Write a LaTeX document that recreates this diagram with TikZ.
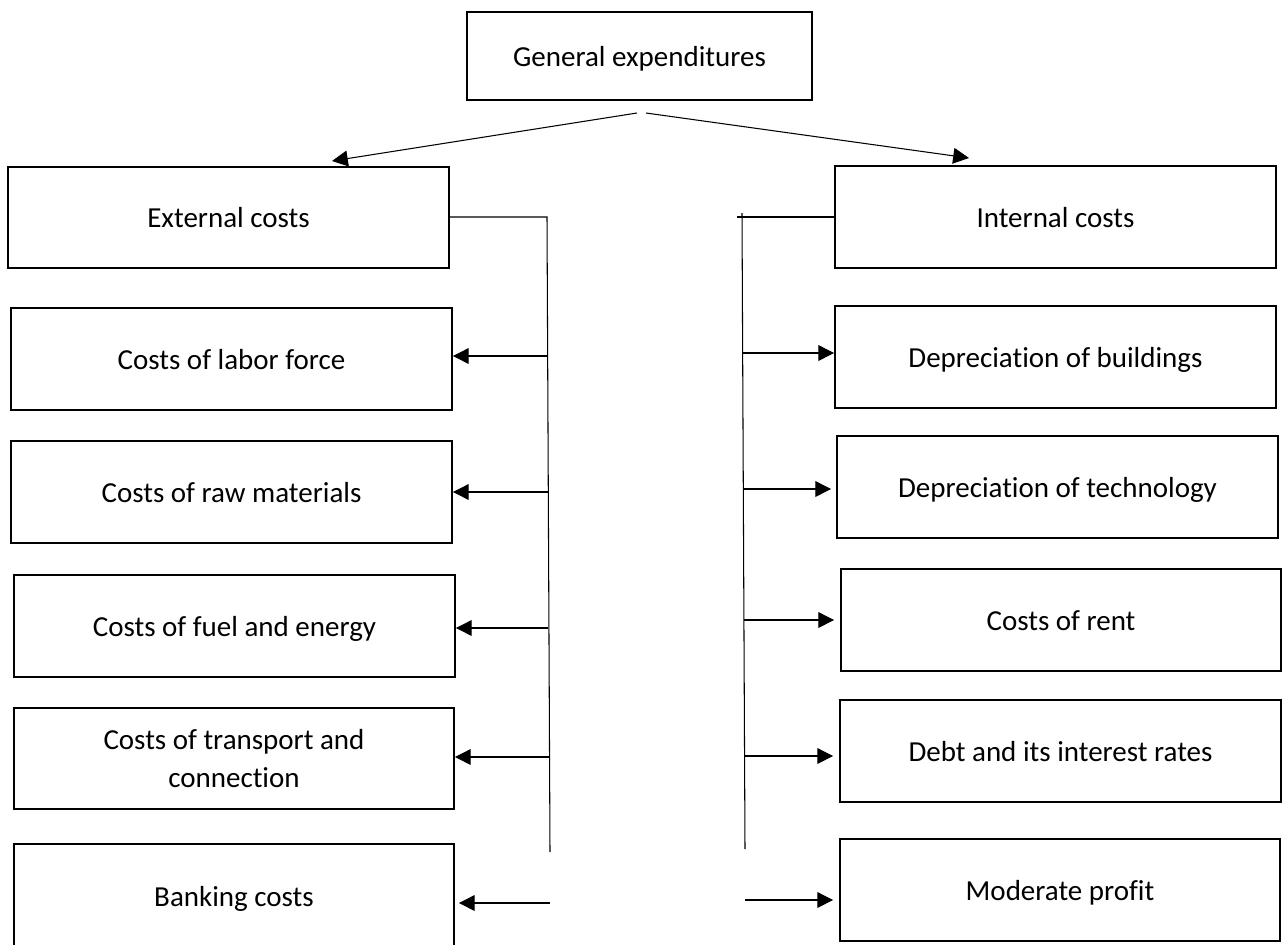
\documentclass[tikz,border=0pt]{standalone}
\usepackage{fontspec}
\setmainfont{Carlito}[Ligatures=NoCommon]
\usetikzlibrary{arrows.meta}
\begin{document}
\begin{tikzpicture}[x=0.02cm,y=-0.02cm,
  box/.style={draw, line width=1.1pt, inner sep=0pt, align=center,
    minimum width=8.82cm, minimum height=2.04cm,
    text height=12.4pt, text depth=0.9pt,
    font=\fontsize{16.5}{21.5}\selectfont},
  thin/.style={line width=0.6pt},
  arr/.style={thin, -{Triangle[length=9pt,width=9pt]}}]
\useasboundingbox (0,0) rectangle (1282,944);
\clip (0,0) rectangle (1282,944);

% top box
\node[box, minimum width=6.9cm, minimum height=1.76cm] (gen) at (639.5,56) {General expenditures};

% the two groups
\node[box, minimum height=2.02cm] (ext) at (228.5,217.5) {External costs};
\node[box] (int) at (1055.5,217) {Internal costs};

% external items
\node[box] (lab) at (231.5,359) {Costs of labor force};
\node[box] (raw) at (231.5,492) {Costs of raw materials};
\node[box] (fuel) at (234.5,626) {Costs of fuel and energy};
\node[box, minimum width=8.8cm, minimum height=2.02cm, text height=, text depth=] (trans) at (234,758.5) {Costs of transport and\\connection};
\node[box, minimum width=8.8cm, minimum height=2.08cm] (bank) at (234,896) {Banking costs};

% internal items
\node[box] (bld) at (1055.5,357) {Depreciation of buildings};
\node[box] (tech) at (1057.5,487) {Depreciation of technology};
\node[box, minimum width=8.8cm] (rent) at (1061,620) {Costs of rent};
\node[box] (debt) at (1060.5,751) {Debt and its interest rates};
\node[box, minimum width=8.8cm] (prof) at (1060,890) {Moderate profit};

% split arrows under the top box
\coordinate (gl) at (637,113);
\coordinate (gr) at (646,113);
\coordinate (tl) at (332,161);
\coordinate (tr) at (969,158);
\draw[arr] (gl) -- (tl);
\draw[arr] (gr) -- (tr);

% left bus
\coordinate (lt) at (547,217);
\coordinate (lb) at (550,852);
\draw[thin] (ext.east |- lt) -- (lt) -- (lb);
\coordinate (l1) at (547,356);
\coordinate (l2) at (548,492);
\coordinate (l3) at (548,628);
\coordinate (l4) at (549,757);
\coordinate (l5) at (550,903);
\draw[arr] (l1) -- (l1 -| lab.east);
\draw[arr] (l2) -- (l2 -| raw.east);
\draw[arr] (l3) -- (l3 -| fuel.east);
\draw[arr] (l4) -- (l4 -| trans.east);
\draw[arr] (l5) -- ([xshift=0.08cm]l5 -| bank.east);

% right bus
\coordinate (rh) at (737,217);
\coordinate (rt) at (742,213);
\coordinate (rb) at (745,849);
\draw[thin] (int.west |- rh) -- (rh);
\draw[thin] (rt) -- (rb);
\coordinate (r1) at (742,353);
\coordinate (r2) at (743,489);
\coordinate (r3) at (744,620);
\coordinate (r4) at (744,756);
\coordinate (r5) at (745,900);
\draw[arr] (r1) -- (r1 -| bld.west);
\draw[arr] (r2) -- ([xshift=-0.1cm]r2 -| tech.west);
\draw[arr] (r3) -- ([xshift=-0.12cm]r3 -| rent.west);
\draw[arr] (r4) -- ([xshift=-0.12cm]r4 -| debt.west);
\draw[arr] (r5) -- ([xshift=-0.12cm]r5 -| prof.west);
\end{tikzpicture}
\end{document}
